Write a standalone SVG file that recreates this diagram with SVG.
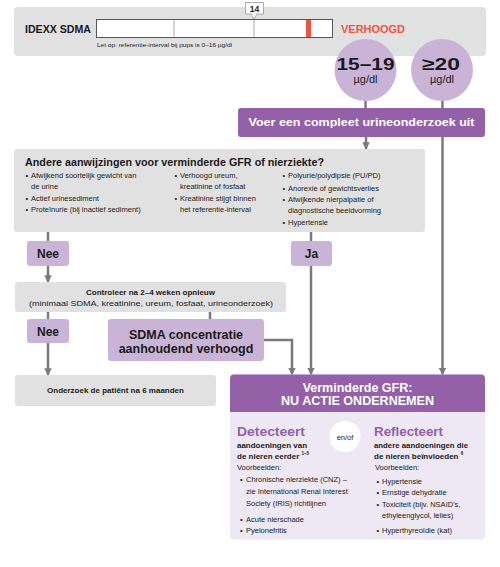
<svg xmlns="http://www.w3.org/2000/svg" width="500" height="567" viewBox="0 0 500 567">
<style>
text{font-family:"Liberation Sans",Arial,Helvetica,sans-serif;fill:#1a1a1a}
.b{font-weight:bold}
.gray{fill:#e1e1e1}
.lp{fill:#c9b4d8}
.dp{fill:#9461a8}
.wt{fill:#ffffff}
.conn{stroke:#7a7a7a;stroke-width:2.5;fill:none}
.sm{font-size:7.5px}
.c{text-anchor:middle}
</style>
<defs>
<marker id="ah" viewBox="0 0 10 10" refX="9" refY="5" markerWidth="3" markerHeight="3" orient="auto" markerUnits="strokeWidth">
<path d="M0,0 L10,5 L0,10 z" fill="#7a7a7a"/>
</marker>
</defs>
<rect width="500" height="567" fill="#ffffff"/>

<g id="sdma-bar">
<rect class="gray" x="14" y="7" width="472" height="49" rx="4"/>
<text class="b" x="25" y="33" font-size="10.5" textLength="66" lengthAdjust="spacingAndGlyphs">IDEXX SDMA</text>
<rect x="96.5" y="19.5" width="236" height="18" fill="#ffffff" stroke="#555" stroke-width="1"/>
<line x1="174" y1="20" x2="174" y2="37" stroke="#aaa" stroke-width="1"/>
<line x1="254" y1="20" x2="254" y2="37" stroke="#aaa" stroke-width="1"/>
<rect x="306" y="20" width="5" height="17" fill="#ef5343"/>
<path d="M245.5,2.5 H263.5 V14 H257 L254,19 L251,14 H245.5 Z" fill="#ffffff" stroke="#999" stroke-width="0.8"/>
<text class="b c" x="254.5" y="12" font-size="8.5">14</text>
<text x="97" y="47" font-size="5.5" textLength="135" lengthAdjust="spacingAndGlyphs">Let op: referentie-interval bij pups is 0–16 µg/dl</text>
<text class="b" x="341" y="33" font-size="11" fill="#ef5343" style="fill:#ef5343" textLength="64" lengthAdjust="spacingAndGlyphs">VERHOOGD</text>
</g>

<g id="connectors">
<line class="conn" x1="365.5" y1="100" x2="365.5" y2="108"/>
<line class="conn" x1="442.5" y1="100" x2="442.5" y2="108"/>
<line class="conn" x1="366" y1="137" x2="366" y2="149" marker-end="url(#ah)"/>
<line class="conn" x1="442.5" y1="137" x2="442.5" y2="374.5" marker-end="url(#ah)"/>
<line class="conn" x1="48" y1="232" x2="48" y2="241"/>
<line class="conn" x1="311" y1="232" x2="311" y2="241"/>
<line class="conn" x1="48" y1="266" x2="48" y2="282" marker-end="url(#ah)"/>
<line class="conn" x1="311" y1="266" x2="311" y2="374.5" marker-end="url(#ah)"/>
<line class="conn" x1="48" y1="312" x2="48" y2="319"/>
<line class="conn" x1="210" y1="312" x2="210" y2="319"/>
<line class="conn" x1="48" y1="343" x2="48" y2="375" marker-end="url(#ah)"/>
<polyline class="conn" points="264,340 292,340 292,374.5" marker-end="url(#ah)"/>
</g>

<g id="circle-15-19">
<circle class="lp" cx="365.5" cy="70" r="31"/>
<text class="b c" x="365.5" y="69.5" font-size="17" textLength="58" lengthAdjust="spacingAndGlyphs">15–19</text>
<text class="c" x="365.5" y="83" font-size="11">µg/dl</text>
</g>

<g id="circle-20">
<circle class="lp" cx="442" cy="70" r="31"/>
<text class="b c" x="441" y="69.5" font-size="17" textLength="38" lengthAdjust="spacingAndGlyphs">≥20</text>
<text class="c" x="442" y="83" font-size="11">µg/dl</text>
</g>

<g id="urine">
<rect class="dp" x="238" y="108" width="247" height="29" rx="3"/>
<text class="b c wt" x="361.5" y="126" font-size="11" textLength="226" lengthAdjust="spacingAndGlyphs" style="fill:#fff">Voer een compleet urineonderzoek uit</text>
</g>

<g id="andere">
<rect class="gray" x="14" y="149" width="411" height="83" rx="3"/>
<text class="b" x="25" y="166" font-size="10" textLength="299" lengthAdjust="spacingAndGlyphs">Andere aanwijzingen voor verminderde GFR of nierziekte?</text>
<g class="sm">
<text x="25.5" y="178">•</text><text x="31" y="178">Afwijkend soortelijk gewicht van</text>
<text x="31" y="189">de urine</text>
<text x="25.5" y="201">•</text><text x="31" y="201">Actief urinesediment</text>
<text x="25.5" y="212">•</text><text x="31" y="212">Proteïnurie (bij inactief sediment)</text>
<text x="174.5" y="178">•</text><text x="180" y="178">Verhoogd ureum,</text>
<text x="180" y="189">kreatinine of fosfaat</text>
<text x="174.5" y="201">•</text><text x="180" y="201">Kreatinine stijgt binnen</text>
<text x="180" y="212">het referentie-interval</text>
<text x="282.5" y="178">•</text><text x="288" y="178">Polyurie/polydipsie (PU/PD)</text>
<text x="282.5" y="190.5">•</text><text x="288" y="190.5">Anorexie of gewichtsverlies</text>
<text x="282.5" y="202">•</text><text x="288" y="202">Afwijkende nierpalpatie of</text>
<text x="288" y="213">diagnostische beeldvorming</text>
<text x="282.5" y="225">•</text><text x="288" y="225">Hypertensie</text>
</g>
</g>

<g id="nee1">
<rect class="lp" x="27" y="241" width="42" height="25" rx="3"/>
<text class="b c" x="48" y="258" font-size="12">Nee</text>
</g>

<g id="ja">
<rect class="lp" x="291" y="241" width="41" height="25" rx="3"/>
<text class="b c" x="311.5" y="258" font-size="12">Ja</text>
</g>

<g id="controleer">
<rect class="gray" x="15" y="282" width="271" height="30" rx="3"/>
<text class="b c" x="150.5" y="295" font-size="8">Controleer na 2–4 weken opnieuw</text>
<text class="c" x="151" y="305.5" font-size="8" textLength="244" lengthAdjust="spacingAndGlyphs">(minimaal SDMA, kreatinine, ureum, fosfaat, urineonderzoek)</text>
</g>

<g id="nee2">
<rect class="lp" x="27" y="319" width="42" height="24" rx="3"/>
<text class="b c" x="48" y="336" font-size="12">Nee</text>
</g>

<g id="sdma-verhoogd">
<rect class="lp" x="108" y="319" width="156" height="42" rx="3"/>
<text class="b c" x="186" y="339" font-size="12.5">SDMA concentratie</text>
<text class="b c" x="186" y="353" font-size="12.5">aanhoudend verhoogd</text>
</g>

<g id="onderzoek">
<rect class="gray" x="15" y="375" width="201" height="31" rx="3"/>
<text class="b c" x="115.5" y="393" font-size="8">Onderzoek de patiënt na 6 maanden</text>
</g>

<g id="verminderde-gfr">
<rect x="230" y="374.5" width="255" height="165" rx="4" fill="#eee8f4"/>
<path d="M230,412 V378.5 a4,4 0 0 1 4,-4 H481 a4,4 0 0 1 4,4 V412 Z" fill="#9461a8"/>
<text class="b c" x="357.5" y="392" font-size="12.5" style="fill:#fff">Verminderde GFR:</text>
<text class="b c" x="357.5" y="405" font-size="12.5" textLength="153" lengthAdjust="spacingAndGlyphs" style="fill:#fff">NU ACTIE ONDERNEMEN</text>
<circle cx="345" cy="436.5" r="15.5" fill="#ffffff"/>
<text class="c" x="345" y="439.5" font-size="7.5">en/of</text>
<text class="b" x="237" y="436" font-size="12" textLength="68" lengthAdjust="spacingAndGlyphs" style="fill:#9461a8">Detecteert</text>
<text class="b" x="237" y="448" font-size="8" textLength="70" lengthAdjust="spacingAndGlyphs">aandoeningen van</text>
<text class="b" x="237" y="458.5" font-size="8">de nieren eerder <tspan font-size="4.5" dy="-3.5">1–5</tspan></text>
<text x="237" y="470" font-size="7.5">Voorbeelden:</text>
<g class="sm">
<text x="240" y="482">•</text><text x="246" y="482">Chronische nierziekte (CNZ) –</text>
<text x="246" y="494">zie International Renal Interest</text>
<text x="246" y="506">Society (IRIS) richtlijnen</text>
<text x="240" y="521.5">•</text><text x="246" y="521.5">Acute nierschade</text>
<text x="240" y="532.5">•</text><text x="246" y="532.5">Pyelonefritis</text>
</g>
<text class="b" x="374" y="436" font-size="12" textLength="69" lengthAdjust="spacingAndGlyphs" style="fill:#9461a8">Reflecteert</text>
<text class="b" x="374" y="448" font-size="8" textLength="94" lengthAdjust="spacingAndGlyphs">andere aandoeningen die</text>
<text class="b" x="374" y="458.5" font-size="8">de nieren beïnvloeden <tspan font-size="4.5" dy="-3.5">6</tspan></text>
<text x="375" y="470" font-size="7.5">Voorbeelden:</text>
<g class="sm">
<text x="376.5" y="484">•</text><text x="382" y="484">Hypertensie</text>
<text x="376.5" y="495">•</text><text x="382" y="495">Ernstige dehydratie</text>
<text x="376.5" y="507">•</text><text x="382" y="507">Toxiciteit (bijv. NSAID's,</text>
<text x="382" y="518">ethyleenglycol, lelies)</text>
<text x="376.5" y="532.5">•</text><text x="382" y="532.5">Hyperthyreoïdie (kat)</text>
</g>
</g>
</svg>
